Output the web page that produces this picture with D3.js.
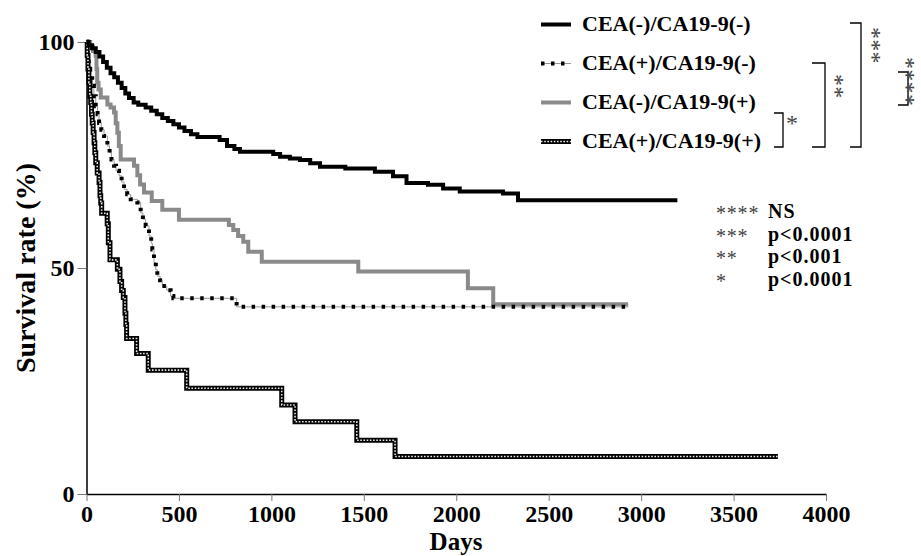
<!DOCTYPE html>
<html>
<head>
<meta charset="utf-8">
<script src="https://cdn.jsdelivr.net/npm/d3@7"></script>
<style>
  body { margin: 0; background: #fff; }
  svg { display: block; }
  text { font-family: "Liberation Serif", "Times New Roman", serif; }
</style>
</head>
<body>
<svg id="chart" width="921" height="556"></svg>
<script>
// Kaplan-Meier survival by tumour-marker status
const groups = ["CEA(-)/CA19-9(-)", "CEA(+)/CA19-9(-)", "CEA(-)/CA19-9(+)", "CEA(+)/CA19-9(+)"];

// CEA(-)/CA19-9(-): event days and survival (%) after each step
const daysNegNeg = [0,12,30,50,70,90,110,130,150,170,190,210,230,255,280,320,350,380,410,440,470,500,530,565,600,720,760,800,830,1010,1047,1100,1155,1210,1263,1400,1560,1658,1731,1847,1929,2019,2253,2334,3196];
const survNegNeg = [100,99.3,98.6,97.8,96.8,95.6,94.3,93.1,92.2,91.0,89.8,88.6,87.6,86.6,86.1,85.5,84.8,84.0,83.2,82.5,81.8,81.1,80.3,79.6,79.0,78.3,77.0,76.3,75.7,75.2,74.6,74.2,73.9,73.2,72.4,72.0,71.3,70.3,68.8,68.4,67.6,66.9,66.5,65.0,65.0];

// CEA(+)/CA19-9(-)
const daysPosNeg = [0,5,12,20,31,40,50,60,68,80,95,113,125,135,149,160,176,190,203,220,239,275,293,305,320,338,350,356,365,375,383,398,410,434,455,470,812,2930];
const survPosNeg = [100,97,94,92,90.3,88,85.8,84,82.1,80.6,79.2,77,75.5,74,72.6,71.5,70.4,69,67.4,66.3,65.2,64.5,62.2,60.8,59.3,57.1,55.5,54.1,51.2,49.6,48.2,47.3,46.0,45.1,43.8,43.3,41.4,41.4];

// CEA(-)/CA19-9(+)
const daysNegPos = [0,20,35,50,54,58,65,77,113,130,149,158,167,175,185,257,275,290,311,353,410,500,770,794,820,848,875,948,1470,2063,2200,2930];
const survNegPos = [100,99,98,96.9,94,91,89.5,87.7,86.2,85.5,84.4,82,79.9,77,74,72.6,70.5,68.5,66.7,64.8,62.9,60.7,59.5,58.4,57.1,55.8,53.6,51.4,49.2,45.5,42,42];

// CEA(+)/CA19-9(+)
const daysPosPos = [0,4,8,13,18,23,27,31,36,41,45,50,58,68,73,77,82,112,118,127,167,181,190,199,208,213,217,271,334,542,1056,1128,1462,1669,3740];
const survPosPos = [100,97,94,91,88,86.6,84,82.1,80,77.7,75.5,73.3,71,68.9,66,64.4,62.1,59.8,55.6,51.8,49.7,47,45,43.5,40,37.5,34.4,31.1,27.4,23.4,19.7,16.0,11.9,8.3,8.3];

const xTicks = [0,500,1000,1500,2000,2500,3000,3500,4000];
const yTicks = [0,50,100];

// pairwise log-rank comparisons (legend row indices) and their significance
const comparisons = [
  { a: 2, b: 3, stars: "*" },
  { a: 1, b: 3, stars: "**" },
  { a: 0, b: 3, stars: "***" },
  { a: 1, b: 2, stars: "****" }
];
const starKeys = ["****", "***", "**", "*"];
const pValues = ["NS", "p<0.0001", "p<0.001", "p<0.0001"];

const svg = d3.select("#chart");
const x = d3.scaleLinear().domain([0, 4000]).range([86.5, 826]);
const y = d3.scaleLinear().domain([0, 100]).range([494, 42]);

const series = [
  { days: daysNegNeg, surv: survNegNeg },
  { days: daysPosNeg, surv: survPosNeg },
  { days: daysNegPos, surv: survNegPos },
  { days: daysPosPos, surv: survPosPos }
].map(s => s.days.map((d, i) => [d, s.surv[i]]));

const line = d3.line().x(d => x(d[0])).y(d => y(d[1])).curve(d3.curveStepAfter);

// stroke styles per group, each a stack of strokes
const styles = [
  [{ stroke: "#000", width: 4 }],
  [{ stroke: "#999", width: 1 }, { stroke: "#000", width: 4, dash: "3.5,6.5" }],
  [{ stroke: "#8a8a8a", width: 4 }],
  [{ stroke: "#000", width: 5 }, { stroke: "#e6e6e6", width: 1.6, dash: "1.6,1.6" }]
];

function strokeStack(g, d, stack) {
  stack.forEach(s => {
    g.append("path")
      .attr("d", d)
      .attr("fill", "none")
      .attr("stroke", s.stroke)
      .attr("stroke-width", s.width)
      .attr("stroke-dasharray", s.dash || null)
      .attr("stroke-linejoin", "miter");
  });
}

// axes
const xAxis = svg.append("g")
  .attr("transform", `translate(0,${y(0)})`)
  .call(d3.axisBottom(x).tickValues(xTicks).tickSize(7).tickSizeOuter(0).tickPadding(4).tickFormat(d3.format("d")));
const yAxis = svg.append("g")
  .attr("transform", `translate(${x(0)},0)`)
  .call(d3.axisLeft(y).tickValues(yTicks).tickSize(9).tickSizeOuter(0).tickPadding(3));

[xAxis, yAxis].forEach(a => {
  a.select(".domain").attr("stroke", "#000").attr("stroke-width", 1.5);
  a.selectAll(".tick line").attr("stroke", "#777").attr("stroke-width", 1);
  a.selectAll(".tick text")
    .attr("fill", "#000")
    .style("font-family", "'Liberation Serif', serif")
    .style("font-weight", "bold")
    .style("font-size", "24px");
});

// survival curves, drawn back to front
const curves = svg.append("g");
[2, 1, 3, 0].forEach(i => strokeStack(curves.append("g"), line(series[i]), styles[i]));

// axis titles
svg.append("text")
  .attr("transform", "translate(35,268) rotate(-90)")
  .attr("text-anchor", "middle")
  .style("font-weight", "bold")
  .style("font-size", "28px")
  .text("Survival rate (%)");
svg.append("text")
  .attr("x", 456).attr("y", 550)
  .attr("text-anchor", "middle")
  .style("font-weight", "bold")
  .style("font-size", "25px")
  .text("Days");

// legend
const legendBase = [31, 70, 109, 148];
const legend = svg.append("g");
groups.forEach((name, i) => {
  const yy = legendBase[i] - 6.5;
  strokeStack(legend.append("g"), `M541,${yy}H571`, styles[i]);
  legend.append("text")
    .attr("x", 582).attr("y", legendBase[i])
    .style("font-weight", "bold")
    .style("font-size", "22px")
    .text(name);
});

// comparison brackets; star stacks run downward beside each bracket
const starSize = 24;
const starLift = 0.47 * starSize;   // asterisk centre above the baseline
const bracketLayout = [
  { x0: 774, x1: 783, top: 113, bottom: 147, cx: 792, cy: 120 },
  { x0: 812, x1: 825, top: 63, bottom: 147, cx: 839, cy: 74 },
  { x0: 850, x1: 861, top: 23, bottom: 147, cx: 876, cy: 27 },
  { x0: 898, x1: 908, top: 72, bottom: 105, cx: 910.5, cy: 57 }
];
const brackets = svg.append("g");
comparisons.forEach((c, i) => {
  const L = bracketLayout[i];
  brackets.append("path")
    .attr("d", `M${L.x0},${L.top}H${L.x1}V${L.bottom}H${L.x0}`)
    .attr("fill", "none")
    .attr("stroke", "#000")
    .attr("stroke-width", 1.3);
  const t = brackets.append("text")
    .attr("fill", "#444")
    .style("font-size", starSize + "px")
    .text(c.stars);
  if (c.stars.length === 1) {
    t.attr("x", L.cx).attr("y", L.cy + starLift).attr("text-anchor", "middle");
  } else {
    t.attr("transform", `translate(${L.cx - starLift},${L.cy}) rotate(90)`)
      .attr("letter-spacing", "0.3px");
  }
});

// significance key
const keySize = 20;
const keyBase = [218, 240.5, 263, 285.5];
const key = svg.append("g");
starKeys.forEach((s, i) => {
  key.append("text")
    .attr("x", 716).attr("y", keyBase[i] - 7 + 0.47 * keySize)
    .attr("fill", "#444")
    .attr("letter-spacing", "0.8px")
    .style("font-size", keySize + "px")
    .text(s);
  key.append("text")
    .attr("x", 768).attr("y", keyBase[i])
    .attr("letter-spacing", "1px")
    .style("font-weight", "bold")
    .style("font-size", keySize + "px")
    .text(pValues[i]);
});
</script>
</body>
</html>
